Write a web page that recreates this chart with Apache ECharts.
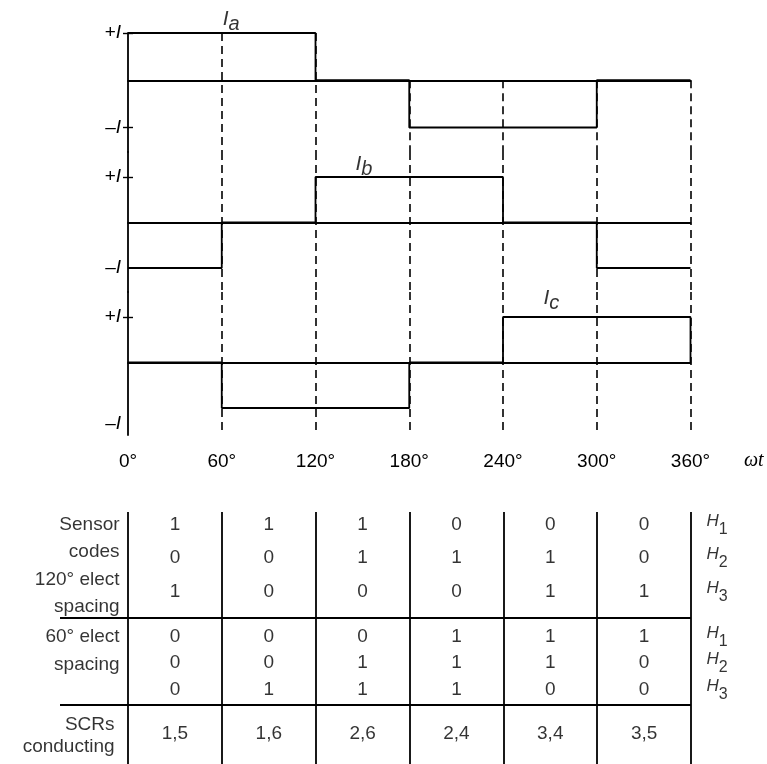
<!DOCTYPE html>
<html><head><meta charset="utf-8">
<script src="https://cdn.jsdelivr.net/npm/echarts@6/dist/echarts.min.js"></script>
<style>html,body{margin:0;padding:0;background:#fff}#c{width:767px;height:764px}</style>
</head><body><div id="c"></div>
<script>
// ---------------- data ----------------
const angles = [0, 60, 120, 180, 240, 300, 360];
const angleLabels = ['0°', '60°', '120°', '180°', '240°', '300°', '360°'];
// phase currents per 60° sector (+1 = +I, -1 = -I)
const Ia = [1, 1, 0, -1, -1, 0];
const Ib = [-1, 0, 1, 1, 0, -1];
const Ic = [0, -1, -1, 0, 1, 1];
const endLevel = [0, -1, 0];          // level each trace finishes at 360°
const waveSubs = ['a', 'b', 'c'];
// sensor codes, 120° electrical spacing
const h1_120 = [1, 1, 1, 0, 0, 0];
const h2_120 = [0, 0, 1, 1, 1, 0];
const h3_120 = [1, 0, 0, 0, 1, 1];
// sensor codes, 60° electrical spacing
const h1_60 = [0, 0, 0, 1, 1, 1];
const h2_60 = [0, 0, 1, 1, 1, 0];
const h3_60 = [0, 1, 1, 1, 0, 0];
const scrs = ['1,5', '1,6', '2,6', '2,4', '3,4', '3,5'];
const header120 = ['Sensor', 'codes', '120° elect', 'spacing'];
const header60 = ['60° elect', 'spacing'];
const headerScr = ['SCRs', 'conducting'];
const hallSubs = ['1', '2', '3'];

// ---------------- layout ----------------
const FONT = '"Liberation Sans", Arial, Helvetica, sans-serif';
const X0 = 128, X360 = 690.5;
const bands = [
  {top: 33, plus: 33, minus: 127.5, bottom: 152, labelVals: [1, -1], tickVals: [1, -1], nameAt: 66, nameDist: -2},
  {top: 152, plus: 177, minus: 268, bottom: 292, labelVals: [1, -1], tickVals: [1], nameAt: 151, nameDist: -3},
  {top: 292, plus: 317, minus: 408, bottom: 435, labelVals: [1, -1.34], tickVals: [1], nameAt: 271, nameDist: 3}
];
const TB = {left: 60, right: 691, top: 512, bottom: 764};
const tableH = TB.bottom - TB.top;
const rows120 = [13, 46, 80], headRows120 = [13, 40, 68, 95];
const rows60 = [125, 151, 178], headRows60 = [125, 153];
const rowScr = 222, headRowsScr = [213, 235];
const seps = [106, 193];
const tableXmin = -360 * (X0 - TB.left) / (X360 - X0);

const waves = [Ia, Ib, Ic];
const blk = '#000';
const LW = 1.8;

const grids = [], xAxes = [], yAxes = [], series = [];

bands.forEach((b, w) => {
  const unit = (b.minus - b.plus) / 2, zero = (b.plus + b.minus) / 2;
  const yMax = (zero - b.top) / unit, yMin = -(b.bottom - zero) / unit;
  grids.push({left: X0, width: X360 - X0, top: b.top, height: b.bottom - b.top, outerBoundsMode: 'none'});
  xAxes.push({
    type: 'value', gridIndex: w, min: 0, max: 360, interval: 60,
    axisLine: {show: true, onZero: true, lineStyle: {color: blk, width: LW}},
    axisTick: {show: false}, axisLabel: {show: false}, splitLine: {show: false}
  });
  yAxes.push({
    type: 'value', gridIndex: w, min: yMin, max: yMax, position: 'left',
    axisLine: {show: true, onZero: false, lineStyle: {color: blk, width: LW}},
    axisTick: {show: true, length: 5, customValues: b.tickVals, lineStyle: {color: blk, width: 1.4}},
    axisLabel: {
      show: true, margin: 7, customValues: b.labelVals,
      formatter: v => (v > 0 ? '+' : '–') + '{i|I}',
      color: blk, fontSize: 19, fontFamily: FONT,
      rich: {i: {fontStyle: 'italic', fontSize: 19, fontFamily: FONT, color: blk}}
    },
    splitLine: {show: false}
  });
  yAxes.push({
    type: 'value', gridIndex: w, min: yMin, max: yMax, position: 'left',
    axisLine: {show: false},
    axisTick: {show: true, inside: true, length: 5, customValues: b.tickVals, lineStyle: {color: blk, width: 1.4}},
    axisLabel: {show: false}, splitLine: {show: false}
  });
  const vals = waves[w];
  // dashed guides
  const dashData = angles.slice(1).map((a, k) => {
    let top = yMax;
    if (w === 0) {
      const prev = vals[k], next = vals[k + 1] !== undefined ? vals[k + 1] : vals[k];
      top = Math.max(0, prev, next);
    }
    return [{coord: [a, top]}, {coord: [a, yMin]}];
  });
  series.push({
    type: 'line', xAxisIndex: w, yAxisIndex: 2 * w, data: [], z: 1, silent: true,
    markLine: {silent: true, symbol: ['none', 'none'], label: {show: false},
      lineStyle: {type: [8, 5], color: blk, width: 1.6}, data: dashData}
  });
  const pts = vals.map((v, i) => [angles[i], v]);
  pts.push([360, vals[vals.length - 1]]);
  pts.push([360, endLevel[w]]);
  series.push({
    type: 'line', xAxisIndex: w, yAxisIndex: 2 * w, step: 'end', data: pts, z: 3, clip: false,
    showSymbol: false, symbol: 'none', silent: true, lineStyle: {color: blk, width: LW}
  });
  series.push({
    type: 'scatter', xAxisIndex: w, yAxisIndex: 2 * w, z: 4, silent: true,
    symbolSize: 1, itemStyle: {color: 'rgba(0,0,0,0)'},
    data: [[b.nameAt, 1]],
    label: {show: true, position: 'top', distance: b.nameDist,
      formatter: '{m|I}{s|' + waveSubs[w] + '}',
      rich: {
        m: {fontStyle: 'italic', fontSize: 21, fontFamily: FONT, color: blk, verticalAlign: 'top', lineHeight: 22},
        s: {fontStyle: 'italic', fontSize: 20, fontFamily: FONT, color: blk, verticalAlign: 'bottom', lineHeight: 26}
      }}
  });
});

// angle tick labels under the last waveform
xAxes.push({
  type: 'value', gridIndex: 2, min: 0, max: 360, interval: 60, position: 'bottom',
  axisLine: {show: false, onZero: false}, axisTick: {show: false},
  axisLabel: {show: true, margin: 17, color: blk, fontSize: 19, fontFamily: FONT,
    formatter: v => angleLabels[angles.indexOf(v)]},
  splitLine: {show: false}
});

// ---------------- table ----------------
grids.push({left: TB.left, width: TB.right - TB.left, top: TB.top, height: tableH, outerBoundsMode: 'none'});
xAxes.push({type: 'value', gridIndex: 3, min: tableXmin, max: 360, show: false, splitLine: {show: false}});
yAxes.push({type: 'value', gridIndex: 3, min: 0, max: tableH, inverse: true, show: false, splitLine: {show: false}});
const TX = 4, TY = 6;

const tableLines = angles.map(a => [{coord: [a, 0]}, {coord: [a, tableH]}])
  .concat(seps.map(y => [{coord: [tableXmin, y]}, {coord: [360, y]}]));
series.push({
  type: 'line', xAxisIndex: TX, yAxisIndex: TY, data: [], silent: true,
  markLine: {silent: true, symbol: ['none', 'none'], label: {show: false},
    lineStyle: {type: 'solid', color: blk, width: LW}, data: tableLines}
});

const mids = angles.slice(0, 6).map((a, i) => (a + angles[i + 1]) / 2);
const cellData = [];
[[h1_120, rows120[0]], [h2_120, rows120[1]], [h3_120, rows120[2]],
 [h1_60, rows60[0]], [h2_60, rows60[1]], [h3_60, rows60[2]], [scrs, rowScr]].forEach(([arr, y]) => {
  arr.forEach((v, i) => cellData.push({value: [mids[i], y], label: {formatter: String(v)}}));
});
series.push({
  type: 'scatter', xAxisIndex: TX, yAxisIndex: TY, silent: true, symbolSize: 1,
  itemStyle: {color: 'rgba(0,0,0,0)'}, data: cellData,
  label: {show: true, position: 'inside', color: blk, fontSize: 19, fontFamily: FONT}
});

const headData = [];
header120.forEach((t, i) => headData.push({value: [0, headRows120[i]], label: {formatter: t}}));
header60.forEach((t, i) => headData.push({value: [0, headRows60[i]], label: {formatter: t}}));
headerScr.forEach((t, i) => headData.push({value: [0, headRowsScr[i]], label: {formatter: t, distance: 13}}));
series.push({
  type: 'scatter', xAxisIndex: TX, yAxisIndex: TY, silent: true, symbolSize: 1,
  itemStyle: {color: 'rgba(0,0,0,0)'}, data: headData,
  label: {show: true, position: 'left', distance: 8, color: blk, fontSize: 19, fontFamily: FONT}
});

const hData = [];
rows120.concat(rows60).forEach((y, i) => hData.push({value: [360, y], label: {formatter: '{m|H}{s|' + hallSubs[i % 3] + '}'}}));
series.push({
  type: 'scatter', xAxisIndex: TX, yAxisIndex: TY, silent: true, symbolSize: 1,
  itemStyle: {color: 'rgba(0,0,0,0)'}, data: hData,
  label: {show: true, position: 'right', distance: 15,
    rich: {
      m: {fontStyle: 'italic', fontSize: 17, fontFamily: FONT, color: blk, verticalAlign: 'top', lineHeight: 18},
      s: {fontSize: 16, fontFamily: FONT, color: blk, verticalAlign: 'bottom', lineHeight: 25}
    }}
});

const chart = echarts.init(document.getElementById('c'), null, {renderer: 'canvas'});
chart.setOption({
  backgroundColor: '#fff',
  animation: false,
  grid: grids,
  xAxis: xAxes,
  yAxis: yAxes,
  series: series,
  graphic: [{
    type: 'text', left: 744, top: 451, silent: true,
    style: {text: 'ωt', font: 'italic 20px "Liberation Serif", "DejaVu Serif", serif', fill: blk}
  }]
});
</script>
</body></html>
